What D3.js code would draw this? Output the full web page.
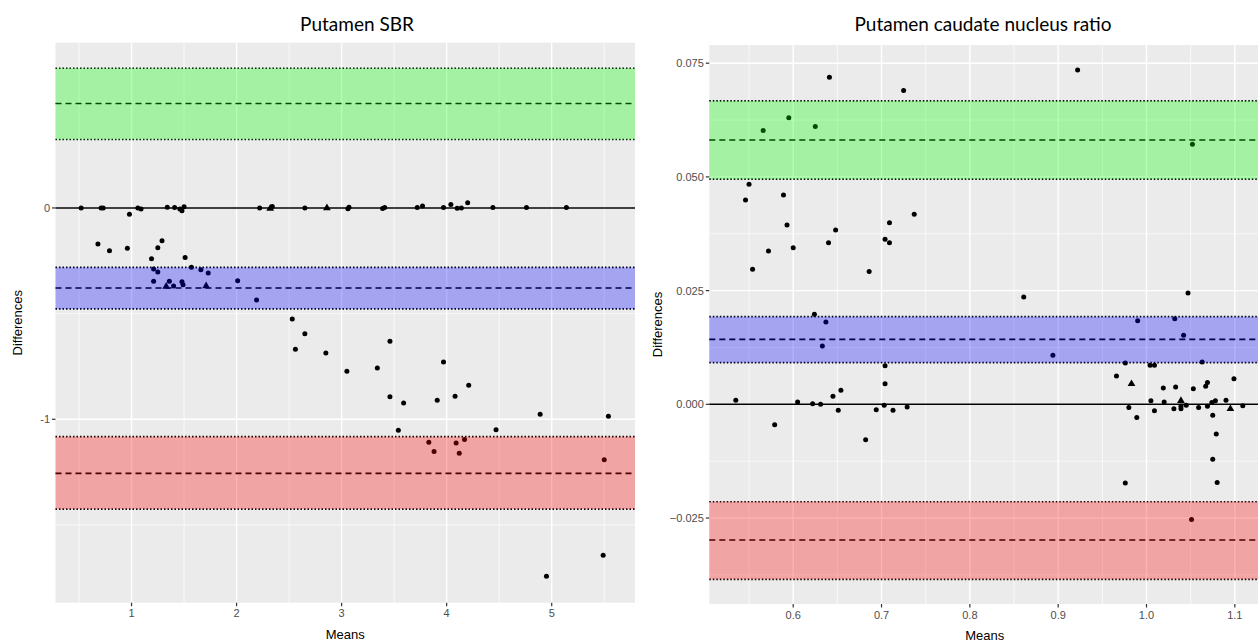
<!DOCTYPE html>
<html>
<head>
<meta charset="utf-8">
<script src="https://cdn.jsdelivr.net/npm/d3@7"></script>
<style>
body { margin: 0; background: #fff; }
svg { display: block; }
</style>
</head>
<body>
<svg id="chart" width="1258" height="642"></svg>
<script>
// Bland-Altman style plots, two panels

// left panel: Putamen SBR
var sbrPoints = [
  [0.52,0],[0.71,0],[0.73,0],[0.98,-0.03],[1.06,0],[1.09,-0.005],[1.34,0.003],[1.41,0.002],
  [1.46,-0.005],[1.48,-0.013],[1.50,0.006],[2.22,0],[2.34,0.007],[2.65,0],[3.07,0.003],
  [3.06,-0.004],[3.39,-0.003],[3.41,0.002],[3.72,0.002],[3.77,0.009],[3.97,0.002],[4.04,0.016],
  [4.10,-0.001],[4.14,0],[4.20,0.025],[4.44,0.002],[4.76,0.002],[5.14,0.002],
  [0.68,-0.170],[0.79,-0.203],[0.96,-0.191],[1.19,-0.240],[1.25,-0.188],[1.29,-0.155],
  [1.51,-0.235],[1.21,-0.289],[1.25,-0.303],[1.21,-0.347],[1.36,-0.347],[1.40,-0.369],
  [1.48,-0.349],[1.49,-0.363],[1.57,-0.281],[1.66,-0.292],[1.73,-0.308],[2.01,-0.345],
  [2.19,-0.435],[2.53,-0.525],[2.65,-0.595],[2.56,-0.669],[2.85,-0.686],[3.05,-0.773],
  [3.34,-0.757],[3.46,-0.631],[3.46,-0.894],[3.59,-0.923],[3.54,-1.052],[3.97,-0.729],
  [3.91,-0.910],[4.08,-0.891],[4.21,-0.839],[4.47,-1.049],[4.89,-0.976],[5.54,-0.986],
  [3.83,-1.109],[3.88,-1.152],[4.09,-1.112],[4.17,-1.096],[4.12,-1.161],[5.50,-1.191],
  [5.49,-1.644],[4.95,-1.743]
];
var sbrTriangles = [[2.32,-0.003],[2.86,0],[1.33,-0.372],[1.71,-0.369]];
// [upper limit, mean, lower limit]
var sbrGreen = [0.661, 0.494, 0.324];
var sbrBlue = [-0.281, -0.379, -0.478];
var sbrRed = [-1.082, -1.256, -1.425];
var sbrXTicks = [1, 2, 3, 4, 5];
var sbrYTicks = [-1, 0];

// right panel: Putamen caudate nucleus ratio
var ratioPoints = [
  [0.641,0.0719],[0.725,0.0690],[0.922,0.0735],[0.566,0.0602],[0.595,0.0630],[0.625,0.0611],
  [1.052,0.0572],[0.550,0.0484],[0.546,0.0449],[0.589,0.0460],[0.593,0.0394],[0.600,0.0344],
  [0.572,0.0337],[0.554,0.0297],[0.640,0.0355],[0.648,0.0383],[0.686,0.0292],[0.704,0.0363],
  [0.709,0.0355],[0.709,0.0399],[0.737,0.0418],[0.861,0.0236],[1.047,0.0245],[0.624,0.0198],
  [0.637,0.0181],[0.990,0.0184],[1.032,0.0188],[1.042,0.0152],[0.633,0.0128],[0.894,0.0108],
  [0.704,0.0085],[0.704,0.0045],[0.976,0.0091],[1.004,0.0086],[1.009,0.0086],[1.063,0.0093],
  [0.966,0.0062],[1.019,0.0036],[1.033,0.0038],[1.053,0.0034],[1.067,0.0040],[1.069,0.0048],
  [1.099,0.0056],[0.535,0.0009],[0.605,0.0005],[0.622,0.0001],[0.631,0],[0.645,0.0018],
  [0.654,0.0031],[0.651,-0.0013],[0.694,-0.0012],[0.703,-0.0002],[0.713,-0.0013],[0.729,-0.0006],
  [0.579,-0.0045],[0.682,-0.0078],[0.980,-0.0007],[0.989,-0.0029],[1.005,0.0008],[1.009,-0.0014],
  [1.020,0.0005],[1.031,-0.001],[1.039,-0.0004],[1.039,-0.001],[1.045,-0.0002],[1.059,-0.0007],
  [1.069,-0.0004],[1.074,0.0004],[1.078,0.0008],[1.075,-0.0024],[1.090,0.0009],[1.109,-0.0003],
  [1.079,-0.0065],[1.075,-0.0121],[1.080,-0.0172],[0.976,-0.0173],[1.051,-0.0253]
];
var ratioTriangles = [[0.983,0.0045],[1.039,0.0008],[1.095,-0.001]];
var ratioGreen = [0.0667, 0.0581, 0.0495];
var ratioBlue = [0.01927, 0.01429, 0.00915];
var ratioRed = [-0.02142, -0.02984, -0.03848];
var ratioXTicks = [0.6, 0.7, 0.8, 0.9, 1.0, 1.1];
var ratioYTicks = [-0.025, 0, 0.025, 0.05, 0.075];

var svg = d3.select("#chart");

function drawPanel(p) {
  var x = d3.scaleLinear().domain(p.xDomain).range([p.left, p.right]);
  var y = d3.scaleLinear().domain(p.yDomain).range([p.bottom, p.top]);
  var g = svg.append("g");

  g.append("rect")
    .attr("x", p.left).attr("y", p.top)
    .attr("width", p.right - p.left).attr("height", p.bottom - p.top)
    .attr("fill", "#ebebeb");

  // minor grid
  p.xMinor.forEach(function (v) {
    g.append("line").attr("x1", x(v)).attr("x2", x(v)).attr("y1", p.top).attr("y2", p.bottom)
      .attr("stroke", "#fff").attr("stroke-width", 0.7);
  });
  p.yMinor.forEach(function (v) {
    g.append("line").attr("y1", y(v)).attr("y2", y(v)).attr("x1", p.left).attr("x2", p.right)
      .attr("stroke", "#fff").attr("stroke-width", 0.7);
  });
  // major grid
  p.xTicks.forEach(function (v) {
    g.append("line").attr("x1", x(v)).attr("x2", x(v)).attr("y1", p.top).attr("y2", p.bottom)
      .attr("stroke", "#fff").attr("stroke-width", 1.4);
  });
  p.yTicks.forEach(function (v) {
    g.append("line").attr("y1", y(v)).attr("y2", y(v)).attr("x1", p.left).attr("x2", p.right)
      .attr("stroke", "#fff").attr("stroke-width", 1.4);
  });

  // zero line
  g.append("line").attr("y1", y(0)).attr("y2", y(0)).attr("x1", p.left).attr("x2", p.right)
    .attr("stroke", "#000").attr("stroke-width", 1.5);

  // points
  g.selectAll("circle.pt").data(p.points).enter().append("circle")
    .attr("class", "pt")
    .attr("cx", function (d) { return x(d[0]); })
    .attr("cy", function (d) { return y(d[1]); })
    .attr("r", 2.5)
    .attr("fill", "#000");
  var tri = d3.symbol().type(d3.symbolTriangle).size(26);
  g.selectAll("path.tri").data(p.triangles).enter().append("path")
    .attr("class", "tri")
    .attr("d", tri)
    .attr("transform", function (d) { return "translate(" + x(d[0]) + "," + y(d[1]) + ")"; })
    .attr("fill", "#000");

  // limit lines and bands
  var bands = [[p.green, "#00ff00"], [p.blue, "#0000ff"], [p.red, "#ff0000"]];
  bands.forEach(function (b) {
    var lim = b[0];
    [lim[0], lim[2]].forEach(function (v) {
      g.append("line").attr("y1", y(v)).attr("y2", y(v)).attr("x1", p.left).attr("x2", p.right)
        .attr("stroke", "#000").attr("stroke-width", 1.7).attr("stroke-dasharray", "1.5,2");
    });
    g.append("line").attr("y1", y(lim[1])).attr("y2", y(lim[1])).attr("x1", p.left).attr("x2", p.right)
      .attr("stroke", "#000").attr("stroke-width", 1.6).attr("stroke-dasharray", "6,4");
    g.append("rect")
      .attr("x", p.left).attr("width", p.right - p.left)
      .attr("y", y(lim[0])).attr("height", y(lim[2]) - y(lim[0]))
      .attr("fill", b[1]).attr("fill-opacity", 0.3);
  });

  // axes
  p.xTicks.forEach(function (v) {
    g.append("line").attr("x1", x(v)).attr("x2", x(v)).attr("y1", p.bottom).attr("y2", p.bottom + 3.5)
      .attr("stroke", "#333").attr("stroke-width", 1.2);
    g.append("text").text(p.xFormat(v))
      .attr("x", x(v)).attr("y", p.bottom + 14.5)
      .attr("text-anchor", "middle")
      .attr("font-family", "Liberation Sans, Arial, sans-serif")
      .attr("font-size", 11).attr("fill", "#4d4d4d");
  });
  p.yTicks.forEach(function (v) {
    g.append("line").attr("y1", y(v)).attr("y2", y(v)).attr("x1", p.left - 3.5).attr("x2", p.left)
      .attr("stroke", "#333").attr("stroke-width", 1.2);
    g.append("text").text(p.yFormat(v))
      .attr("x", p.left - 5.5).attr("y", y(v) + 4)
      .attr("text-anchor", "end")
      .attr("font-family", "Liberation Sans, Arial, sans-serif")
      .attr("font-size", 11).attr("fill", "#4d4d4d");
  });

  svg.append("text").text("Means")
    .attr("x", (p.left + p.right) / 2).attr("y", p.xLabelY)
    .attr("text-anchor", "middle")
    .attr("font-family", "Liberation Sans, Arial, sans-serif")
    .attr("font-size", 13).attr("fill", "#000");
  svg.append("text").text("Differences")
    .attr("transform", "translate(" + (p.yLabelX) + "," + ((p.top + p.bottom) / 2) + ") rotate(-90)")
    .attr("text-anchor", "middle")
    .attr("font-family", "Liberation Sans, Arial, sans-serif")
    .attr("font-size", 13).attr("fill", "#000");
  svg.append("text").text(p.title)
    .attr("x", p.titleX).attr("y", 31)
    .attr("text-anchor", "middle")
    .attr("font-family", "Lato, Open Sans, sans-serif")
    .attr("font-size", 19).attr("fill", "#000");
}

drawPanel({
  title: "Putamen SBR", titleX: 357,
  left: 55.5, right: 635, top: 42.7, bottom: 602.7,
  xDomain: [0.276, 5.793], yDomain: [-1.868, 0.782],
  xTicks: sbrXTicks, yTicks: sbrYTicks,
  xMinor: [0.5, 1.5, 2.5, 3.5, 4.5, 5.5], yMinor: [-1.5, -0.5, 0.5],
  xFormat: function (v) { return String(v); },
  yFormat: function (v) { return v < 0 ? "-" + Math.abs(v) : String(v); },
  points: sbrPoints, triangles: sbrTriangles,
  green: sbrGreen, blue: sbrBlue, red: sbrRed,
  xLabelY: 639, yLabelX: 22
});

drawPanel({
  title: "Putamen caudate nucleus ratio", titleX: 983,
  left: 709.3, right: 1260, top: 45, bottom: 604,
  xDomain: [0.505, 1.1285], yDomain: [-0.0439, 0.0790],
  xTicks: ratioXTicks, yTicks: ratioYTicks,
  xMinor: [0.55, 0.65, 0.75, 0.85, 0.95, 1.05, 1.15], yMinor: [-0.0375, -0.0125, 0.0125, 0.0375, 0.0625],
  xFormat: d3.format(".1f"),
  yFormat: function (v) { return d3.format(".3f")(v).replace("-", "\u2212"); },
  points: ratioPoints, triangles: ratioTriangles,
  green: ratioGreen, blue: ratioBlue, red: ratioRed,
  xLabelY: 640, yLabelX: 662
});
</script>
</body>
</html>
